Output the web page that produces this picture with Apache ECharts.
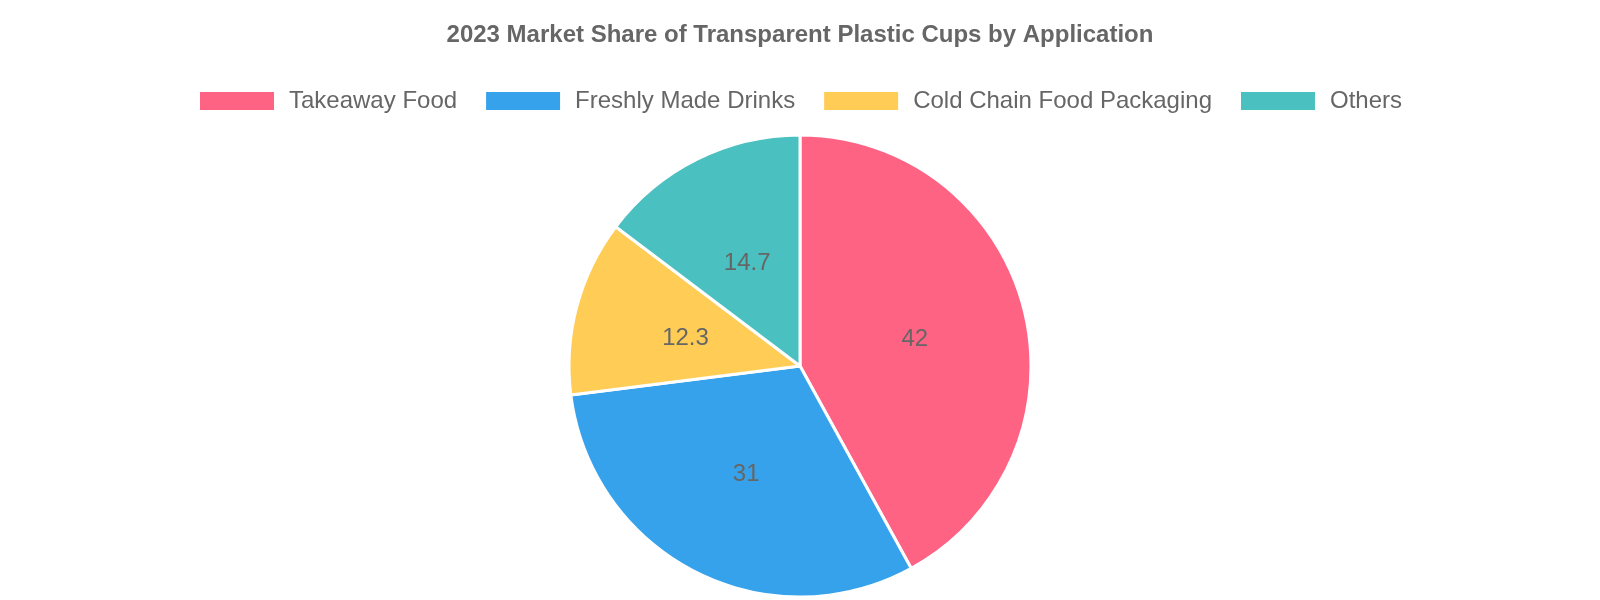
<!DOCTYPE html>
<html>
<head>
<meta charset="utf-8">
<script src="https://cdn.jsdelivr.net/npm/echarts@6/dist/echarts.min.js"></script>
<style>
html,body{margin:0;padding:0;background:#fff;}
#chart{width:1600px;height:600px;}
</style>
</head>
<body>
<div id="chart"></div>
<script>
const titleText = '2023 Market Share of Transparent Plastic Cups by Application';
const categories = ['Takeaway Food', 'Freshly Made Drinks', 'Cold Chain Food Packaging', 'Others'];
const values = [42, 31, 12.3, 14.7];
const colors = ['#ff6384', '#36a2eb', '#ffcd56', '#4bc0c0'];

const chart = echarts.init(document.getElementById('chart'));
const FONT = '"Liberation Sans", Arial, Helvetica, sans-serif';
chart.setOption({
  animation: false,
  color: colors,
  title: {
    text: titleText,
    left: 'center',
    top: 18,
    textStyle: { fontFamily: FONT, fontSize: 24, fontWeight: 'bold', color: '#666' }
  },
  legend: {
    data: categories,
    top: 84,
    left: 'center',
    icon: 'rect',
    itemWidth: 76,
    itemHeight: 20,
    itemGap: 27,
    textStyle: { fontFamily: FONT, fontSize: 24, color: '#666', padding: [0, 0, 0, 9] }
  },
  series: [{
    type: 'pie',
    center: ['50%', 366],
    radius: 231,
    startAngle: 90,
    clockwise: true,
    data: categories.map((c, i) => ({ name: c, value: values[i] })),
    itemStyle: { borderColor: '#fff', borderWidth: 3 },
    label: {
      show: true,
      position: 'inside',
      formatter: '{c}',
      color: '#666',
      fontFamily: FONT,
      fontSize: 24
    },
    labelLayout: { dy: 3 },
    labelLine: { show: false },
    emphasis: { disabled: true }
  }]
});
</script>
</body>
</html>
